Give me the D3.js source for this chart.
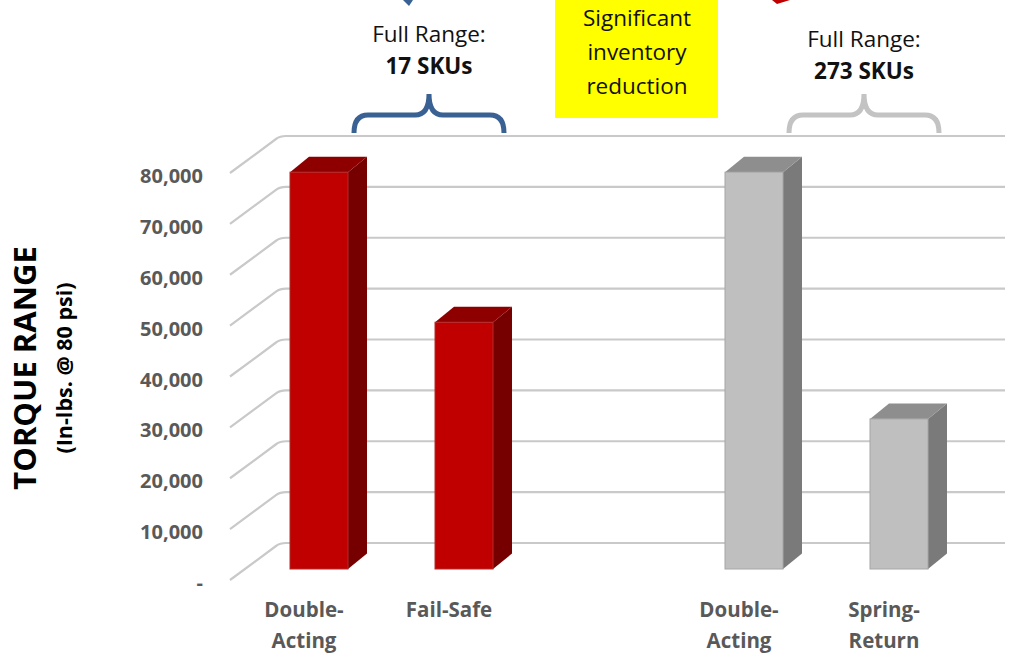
<!DOCTYPE html>
<html>
<head>
<meta charset="utf-8">
<script src="https://cdn.jsdelivr.net/npm/d3@7"></script>
<style>
  body { margin: 0; background: #fff; }
  svg { display: block; font-family: "Open Sans", sans-serif; }
</style>
</head>
<body>
<svg id="chart" width="1009" height="664"></svg>
<script>
const width = 1009;
const height = 664;

// slot 2 is the empty gap between the two groups
const categories = ["Double-Acting", "Fail-Safe", "", "Double-Acting", "Spring-Return"];
const values = [78000, 48500, null, 78000, 29500];
const series = ["reduced", "reduced", null, "full", "full"];
const yTicks = [0, 10000, 20000, 30000, 40000, 50000, 60000, 70000, 80000];

const groupLabels = [
    { slots: [0, 1], line1: "Full Range:", line2: "17 SKUs", color: "#3a6194" },
    { slots: [3, 4], line1: "Full Range:", line2: "273 SKUs", color: "#c3c3c3" }
];
const noteLines = ["Significant", "inventory", "reduction"];

const colors = {
    reduced: { front: "#c00000", top: "#8e0000", side: "#760000", edge: "#b42a2a" },
    full: { front: "#bfbfbf", top: "#8e8e8e", side: "#7a7a7a", edge: "#a6a6a6" }
};

// 3d offsets (oblique projection)
const wallDx = 50, wallDy = -37;   // front edge -> back wall
const barDx = 15, barDy = -11;     // front edge -> bar front plane
const depthDx = 19, depthDy = -15.5; // bar depth

const svg = d3.select("#chart");

const x = d3.scaleBand()
    .domain(d3.range(categories.length))
    .range([246.5, 971.5])
    .paddingInner(0.6)
    .paddingOuter(0.3);

// y on the front plane of the floor
const y = d3.scaleLinear().domain([0, 80000]).range([580, 173]);

const frontX = 230;
const rightX = 1005;

// gridlines: side wall diagonal + back wall line
const grid = svg.append("g");
yTicks.forEach(function (t) {
    const y0 = y(t);
    grid.append("path")
        .attr("d", `M${frontX},${y0} L${frontX + wallDx - 4},${y0 + wallDy + 3} Q${frontX + wallDx},${y0 + wallDy} ${frontX + wallDx + 6},${y0 + wallDy} L${rightX},${y0 + wallDy}`)
        .attr("fill", "none")
        .attr("stroke", "#c9c9c9")
        .attr("stroke-width", 2.2);
});

// y tick labels
svg.append("g").selectAll("text")
    .data(yTicks)
    .join("text")
    .attr("x", 203)
    .attr("y", d => y(d) + 3)
    .attr("dy", "0.35em")
    .attr("text-anchor", "end")
    .attr("font-size", "20px")
    .attr("font-weight", "bold")
    .attr("fill", "#595959")
    .text(d => d === 0 ? "-" : d3.format(",")(d));

// bars
const bars = svg.append("g");
values.forEach(function (v, i) {
    if (v === null) return;
    const c = colors[series[i]];
    const x0 = x(i);
    const x1 = x0 + x.bandwidth();
    const yb = y(0) + barDy;
    const yt = y(v) + barDy;

    // side
    bars.append("path")
        .attr("d", `M${x1},${yt} L${x1 + depthDx},${yt + depthDy} L${x1 + depthDx},${yb + depthDy} L${x1},${yb} Z`)
        .attr("fill", c.side);
    // top
    bars.append("path")
        .attr("d", `M${x0},${yt} L${x0 + depthDx},${yt + depthDy} L${x1 + depthDx},${yt + depthDy} L${x1},${yt} Z`)
        .attr("fill", c.top);
    // front
    bars.append("rect")
        .attr("x", x0)
        .attr("y", yt)
        .attr("width", x.bandwidth())
        .attr("height", yb - yt)
        .attr("fill", c.front)
        .attr("stroke", c.edge)
        .attr("stroke-width", 1);
});

// category labels (front plane)
const catG = svg.append("g");
categories.forEach(function (name, i) {
    if (!name) return;
    const cx = x(i) + x.bandwidth() / 2 + barDx - 30;
    const parts = name.includes("-") && name !== "Fail-Safe"
        ? [name.split("-")[0] + "-", name.split("-")[1]]
        : [name];
    parts.forEach(function (p, k) {
        catG.append("text")
            .attr("x", cx)
            .attr("y", 610 + k * 31)
            .attr("dy", "0.35em")
            .attr("text-anchor", "middle")
            .attr("font-size", "20.5px")
            .attr("font-weight", "bold")
            .attr("fill", "#595959")
            .text(p);
    });
});

// y axis title
svg.append("text")
    .attr("transform", "translate(36,368) rotate(-90)")
    .attr("text-anchor", "middle")
    .attr("font-size", "31px")
    .attr("font-weight", "bold")
    .attr("fill", "#000")
    .text("TORQUE RANGE");
svg.append("text")
    .attr("transform", "translate(72,368) rotate(-90)")
    .attr("text-anchor", "middle")
    .attr("font-size", "21.5px")
    .attr("font-weight", "bold")
    .attr("fill", "#000")
    .text("(In-lbs. @ 80 psi)");

// group braces and labels
groupLabels.forEach(function (g) {
    const left = x(g.slots[0]);
    const right = x(g.slots[1]) + x.bandwidth() + depthDx;
    const cx = (left + right) / 2 + 28;
    const x0 = cx - 75, x1 = cx + 75;
    const yB = 133, yM = 115, yT = 94, r = 14;
    svg.append("path")
        .attr("d", `M${x0},${yB} Q${x0},${yM} ${x0 + r},${yM} L${cx - r},${yM} Q${cx},${yM} ${cx},${yT} Q${cx},${yM} ${cx + r},${yM} L${x1 - r},${yM} Q${x1},${yM} ${x1},${yB}`)
        .attr("fill", "none")
        .attr("stroke", g.color)
        .attr("stroke-width", 5);
    svg.append("text")
        .attr("x", cx)
        .attr("y", g.slots[0] === 0 ? 34 : 39)
        .attr("dy", "0.35em")
        .attr("text-anchor", "middle")
        .attr("font-size", "22.5px")
        .attr("fill", "#111")
        .text(g.line1);
    svg.append("text")
        .attr("x", cx)
        .attr("y", g.slots[0] === 0 ? 66 : 71)
        .attr("dy", "0.35em")
        .attr("text-anchor", "middle")
        .attr("font-size", "22.5px")
        .attr("font-weight", "bold")
        .attr("fill", "#111")
        .text(g.line2);
});

// yellow note box
svg.append("rect")
    .attr("x", 555)
    .attr("y", 0)
    .attr("width", 163)
    .attr("height", 118)
    .attr("fill", "#ffff00");
noteLines.forEach(function (t, k) {
    svg.append("text")
        .attr("x", 637)
        .attr("y", 18 + k * 34)
        .attr("dy", "0.35em")
        .attr("text-anchor", "middle")
        .attr("font-size", "22.5px")
        .attr("fill", "#111")
        .text(t);
});

// clipped arrow tips at the top edge
svg.append("path")
    .attr("d", "M403,0 L413,0 L409,6 Z")
    .attr("fill", "#3a6194");
svg.append("path")
    .attr("d", "M772,0 L790,0 L777,4 Z")
    .attr("fill", "#c00000");
</script>
</body>
</html>
